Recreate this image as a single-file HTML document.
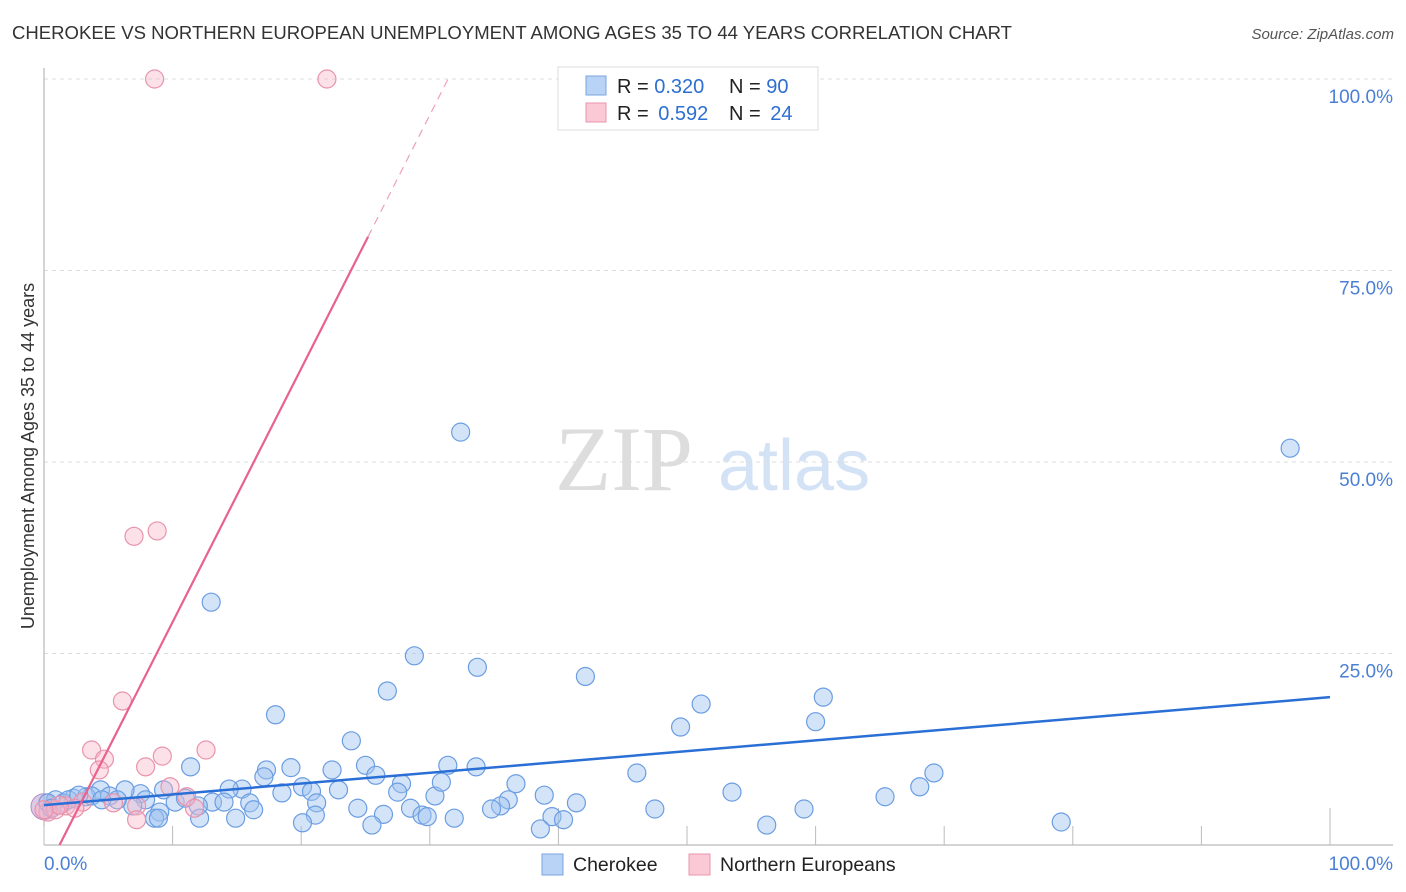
<!DOCTYPE html>
<html><head><meta charset="utf-8"><style>
body{margin:0;background:#fff;font-family:"Liberation Sans",sans-serif;}
svg{display:block}
</style></head><body>
<svg id="chart" width="1406" height="892">
<text x="12" y="39" font-size="18.5" fill="#333" textLength="1000" lengthAdjust="spacingAndGlyphs">CHEROKEE VS NORTHERN EUROPEAN UNEMPLOYMENT AMONG AGES 35 TO 44 YEARS CORRELATION CHART</text>
<text x="1394" y="39" font-size="15" fill="#555" font-style="italic" text-anchor="end">Source: ZipAtlas.com</text>
<text x="555" y="490" font-size="92" fill="#ddd" font-family="Liberation Serif,serif">ZIP</text>
<text x="718" y="490" font-size="72" fill="#d4e2f6">atlas</text>
<g id="grid"></g>
<g id="axes"></g>
<g id="pts"></g>
<g id="lines"></g>
<text transform="translate(34,456) rotate(-90)" font-size="18" fill="#333" text-anchor="middle">Unemployment Among Ages 35 to 44 years</text>
<g>
<rect x="558" y="67" width="260" height="63" fill="#fff" stroke="#ddd"/>
<rect x="586" y="76" width="20" height="19" fill="#b8d3f6" stroke="#7aa6e0"/>
<rect x="586" y="103" width="20" height="19" fill="#fbc8d6" stroke="#e896ae"/>
<text x="617" y="93" font-size="20" fill="#222">R = <tspan fill="#2d6fd0">0.320</tspan></text>
<text x="729" y="93" font-size="20" fill="#222">N = <tspan fill="#2d6fd0">90</tspan></text>
<text x="617" y="120" font-size="20" fill="#222">R = <tspan fill="#2d6fd0" dx="4">0.592</tspan></text>
<text x="729" y="120" font-size="20" fill="#222">N = <tspan fill="#2d6fd0" dx="4">24</tspan></text>
</g>
<g>
<rect x="542" y="854" width="21" height="21" fill="#b8d3f6" stroke="#7aa6e0"/>
<text x="573" y="871" font-size="19.5" fill="#222">Cherokee</text>
<text x="720" y="871" font-size="19.5" fill="#222">Northern Europeans</text>
<rect x="689" y="854" width="21" height="21" fill="#fbc8d6" stroke="#e896ae"/>
</g>
</svg>
<script>
const blueX=[32.4,96.9,13.0,28.8,33.7,42.1,26.7,51.1,60.6,18.0,60.0,49.5,23.9,11.4,17.3,19.2,22.4,25.0,31.4,33.6,69.2,46.1,25.8,17.1,36.7,27.8,15.4,14.4,20.1,22.9,18.5,20.8,68.1,27.5,30.4,38.9,53.5,7.5,6.3,4.4,5.1,2.3,0.9,1.5,3.3,7.9,9.3,10.2,11.0,13.1,12.0,14.0,16.0,6.9,5.7,9.0,36.1,35.5,41.4,21.2,34.8,24.4,28.5,30.9,65.4,47.5,59.1,29.4,26.4,21.1,29.8,16.3,8.6,8.9,12.1,14.9,31.9,39.5,40.4,20.1,25.5,38.6,56.2,79.1,0.3,0.6,3.7,1.9,2.7,4.5];
const blueY=[53.9,51.8,31.7,24.7,23.2,22.0,20.1,18.4,19.3,17.0,16.1,15.4,13.6,10.2,9.8,10.1,9.8,10.4,10.4,10.2,9.4,9.4,9.1,8.9,8.0,8.0,7.3,7.3,7.6,7.2,6.8,7.0,7.6,6.9,6.4,6.5,6.9,6.7,7.2,7.2,6.4,6.1,5.9,5.5,6.3,5.9,7.2,5.6,6.1,5.6,5.1,5.6,5.5,5.1,5.9,4.3,5.9,5.1,5.5,5.5,4.7,4.8,4.8,8.2,6.3,4.7,4.7,3.9,4.0,3.9,3.7,4.6,3.5,3.5,3.5,3.5,3.5,3.7,3.3,2.9,2.6,2.1,2.6,3.0,5.5,4.8,6.4,5.9,6.5,5.9];
const pinkX=[8.6,22.0,7.0,8.8,6.1,3.7,12.6,4.7,9.2,4.3,7.9,9.8,11.1,3.0,5.4,7.2,1.7,2.4,11.7,7.2,0.3,0.9,1.2,0];
const pinkY=[100,100,40.3,41.0,18.8,12.4,12.4,11.2,11.6,9.8,10.2,7.6,6.3,5.6,5.5,5.1,5.1,4.8,4.8,3.3,4.3,4.6,5.2,4.6];
const yTicks=[25,50,75,100];
const yTickLabels=["25.0%","50.0%","75.0%","100.0%"];
const xTicks=[0,10,20,30,40,50,60,70,80,90,100];
const blueTrend=[5.2,0.141];
const pinkTrend=[-4.0,3.31];
const pinkSolidEnd=25.2;
const X=v=>44+v*12.86, Y=v=>845-v*7.66;
const NS="http://www.w3.org/2000/svg";
function mk(p,t,a){const e=document.createElementNS(NS,t);for(const k in a)e.setAttribute(k,a[k]);p.appendChild(e);return e;}
const grid=document.getElementById('grid'),axes=document.getElementById('axes'),pts=document.getElementById('pts'),lines=document.getElementById('lines');
yTicks.forEach((t,i)=>{
 const l=mk(grid,'line',{x1:44,x2:1393,y1:Y(t),y2:Y(t),stroke:'#ddd','stroke-dasharray':'4,4'});
 
 
 const tx=mk(axes,'text',{x:1393,y:Y(t)+24,'font-size':19,fill:'#4a7fd4','text-anchor':'end'});
 tx.textContent=yTickLabels[i];
 
 
});
mk(axes,'line',{x1:44,x2:44,y1:68,y2:845,stroke:'#aaa'});
mk(axes,'line',{x1:44,x2:1393,y1:845,y2:845,stroke:'#aaa'});
xTicks.forEach((t,i)=>{
 const l=mk(axes,'line',{x1:X(t),x2:X(t),y1:845,y2:(i==4||i==10)?808:826,stroke:'#bbb'});
 
 
});
const x0=mk(axes,'text',{x:44,y:870,'font-size':19,fill:'#4a7fd4'});x0.textContent='0.0%';


const x1=mk(axes,'text',{x:1393,y:870,'font-size':19,fill:'#4a7fd4','text-anchor':'end'});x1.textContent='100.0%';


const big=mk(pts,'circle',{cx:X(0),cy:Y(5),r:13,fill:'rgba(190,150,200,0.5)',stroke:'#b08ec8'});


blueX.forEach((v,i)=>{
 const c=mk(pts,'circle',{cx:X(v),cy:Y(blueY[i]),r:9,fill:'rgba(160,196,240,0.45)',stroke:'#6b9de2','stroke-width':1.2});
 
 
});
pinkX.forEach((v,i)=>{
 const c=mk(pts,'circle',{cx:X(v),cy:Y(pinkY[i]),r:9,fill:'rgba(248,180,200,0.4)',stroke:'#e993ac','stroke-width':1.2});
 
 
});
const bl=mk(lines,'line',{x1:X(0),y1:Y(blueTrend[0]),x2:X(100),y2:Y(blueTrend[0]+blueTrend[1]*100),stroke:'#2a6fd6','stroke-width':2.5});


const px0=-pinkTrend[0]/pinkTrend[1], pxEnd=(100-pinkTrend[0])/pinkTrend[1];
const pl=mk(lines,'line',{x1:X(px0),y1:Y(0),x2:X(pinkSolidEnd),y2:Y(pinkTrend[0]+pinkTrend[1]*pinkSolidEnd),stroke:'#e8618f','stroke-width':2.2});


const pd=mk(lines,'line',{x1:X(pinkSolidEnd),y1:Y(pinkTrend[0]+pinkTrend[1]*pinkSolidEnd),x2:X(pxEnd),y2:Y(100),stroke:'#eea0b8','stroke-width':1.2,'stroke-dasharray':'8,6'});


</script>
</body></html>
